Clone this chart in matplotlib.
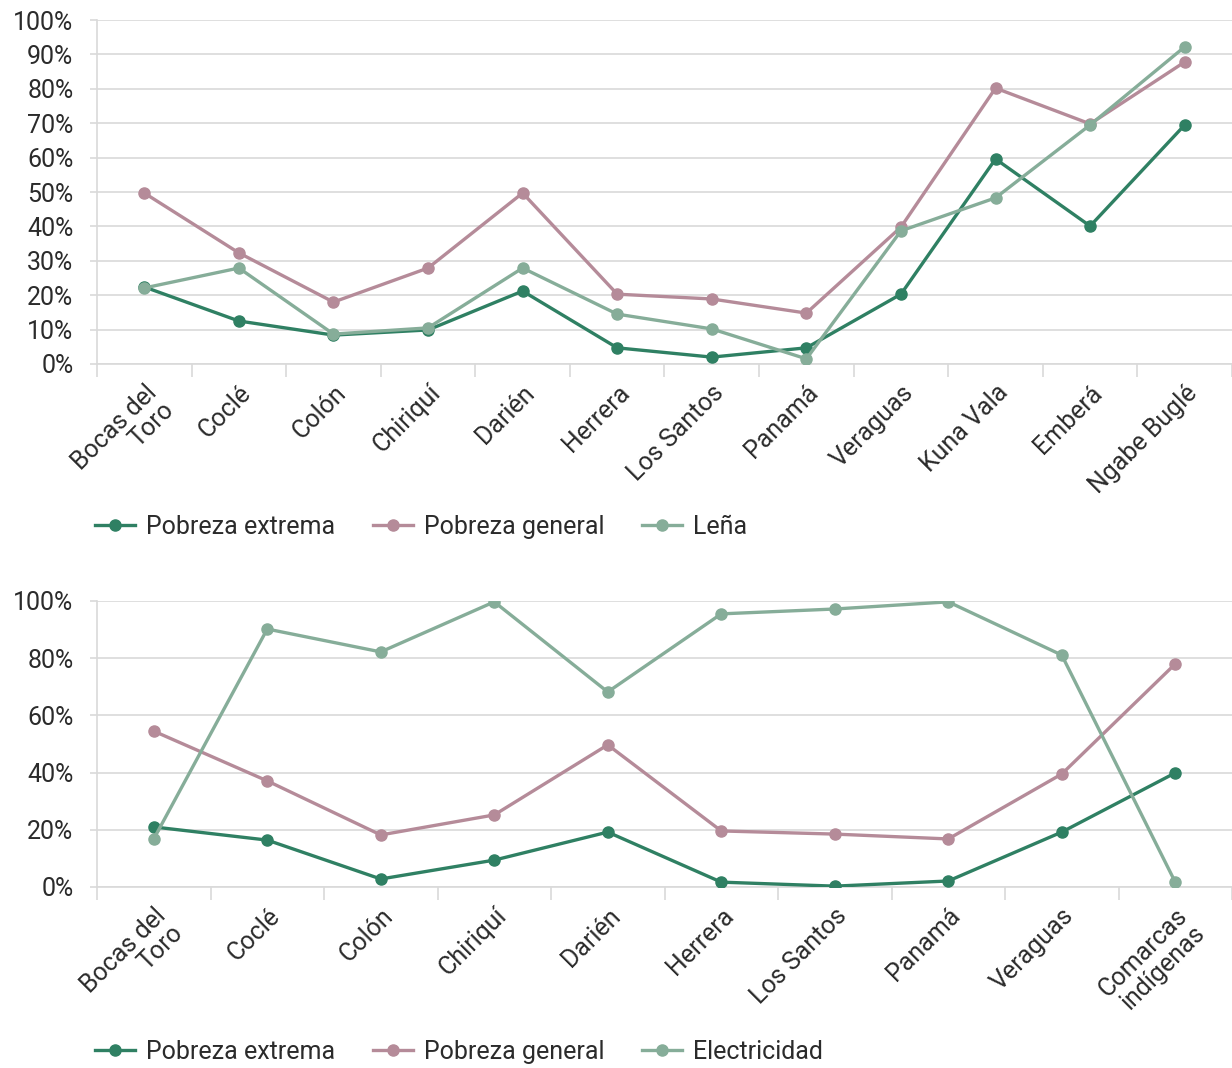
import numpy as np
import matplotlib.pyplot as plt

plt.rcParams['font.family'] = ['Roboto', 'DejaVu Sans']

# Gráfico superior: pobreza y uso de leña por provincia / comarca
provincias_a = ["Bocas del\nToro", "Coclé", "Colón", "Chiriquí", "Darién", "Herrera",
                "Los Santos", "Panamá", "Veraguas", "Kuna Vala", "Emberá", "Ngabe Buglé"]
extrema_a = [22.4, 12.5, 8.4, 9.9, 21.2, 4.7, 2.0, 4.7, 20.3, 59.6, 40.1, 69.5]
general_a = [49.7, 32.3, 18.0, 27.9, 49.7, 20.3, 18.9, 14.8, 39.8, 80.2, 69.8, 87.8]
lena = [22.1, 27.9, 8.7, 10.5, 27.9, 14.5, 10.2, 1.5, 38.7, 48.3, 69.5, 92.2]

# Gráfico inferior: pobreza y acceso a electricidad
provincias_b = ["Bocas del\nToro", "Coclé", "Colón", "Chiriquí", "Darién", "Herrera",
                "Los Santos", "Panamá", "Veraguas", "Comarcas\nindígenas"]
extrema_b = [21.0, 16.4, 2.8, 9.4, 19.2, 1.7, 0.3, 2.1, 19.2, 39.9]
general_b = [54.5, 37.1, 18.2, 25.2, 49.7, 19.6, 18.5, 16.8, 39.5, 78.0]
electricidad = [16.8, 90.2, 82.2, 99.7, 68.2, 95.5, 97.2, 99.7, 81.1, 1.7]

c_ext = "#2f8063"
c_gen = "#b58b99"
c_luz = "#86ad99"
grid_c = "#d9d9d9"
txt_c = "#2b2b2b"
fs = 18

fig = plt.figure(figsize=(12.32, 10.68), dpi=100)
ax1 = fig.add_axes([97 / 1232, 1 - 364 / 1068, 1 - 97 / 1232, 344 / 1068])
ax2 = fig.add_axes([97 / 1232, 1 - 887 / 1068, 1 - 97 / 1232, 286 / 1068])


def dibujar(ax, cats, series, yticks, y_leyenda):
    x = np.arange(len(cats))
    for vals, col, lab in series:
        ax.plot(x, vals, color=col, lw=2.4, marker='o', ms=8, label=lab, zorder=3)
    ax.set_xlim(-0.5, len(cats) - 0.5)
    ax.set_ylim(0, 100)
    ax.set_yticks(yticks)
    ax.set_yticklabels([f"{v}%" for v in yticks], fontsize=fs, color=txt_c)
    ax.yaxis.grid(True, color=grid_c, lw=1.2)
    ax.set_axisbelow(True)
    ax.tick_params(axis='y', length=5, color=grid_c, width=1.2, pad=12)
    ax.set_xticks(x)
    ax.set_xticklabels(cats, rotation=45, ha='right', va='top',
                       rotation_mode='anchor', fontsize=fs, color=txt_c,
                       linespacing=1.0)
    ax.tick_params(axis='x', which='major', length=0, pad=12)
    ax.set_xticks(np.arange(len(cats) + 1) - 0.5, minor=True)
    ax.tick_params(axis='x', which='minor', length=9, color=grid_c, width=1.2)
    for s in ['top', 'right']:
        ax.spines[s].set_visible(False)
    for s in ['left', 'bottom']:
        ax.spines[s].set_color(grid_c)
        ax.spines[s].set_linewidth(1.2)
    ax.legend(loc='center left', ncol=3, frameon=False, fontsize=fs,
              handlelength=1.6, columnspacing=1.5, handletextpad=0.45,
              bbox_to_anchor=(95 / 1232, (1068 - y_leyenda) / 1068),
              bbox_transform=fig.transFigure, borderaxespad=0,
              borderpad=0, labelcolor=txt_c)


dibujar(ax1, provincias_a,
        [(extrema_a, c_ext, "Pobreza extrema"),
         (general_a, c_gen, "Pobreza general"),
         (lena, c_luz, "Leña")],
        list(range(0, 101, 10)), 527)

dibujar(ax2, provincias_b,
        [(extrema_b, c_ext, "Pobreza extrema"),
         (general_b, c_gen, "Pobreza general"),
         (electricidad, c_luz, "Electricidad")],
        list(range(0, 101, 20)), 1052)

fig.savefig("out.png", dpi=100)
